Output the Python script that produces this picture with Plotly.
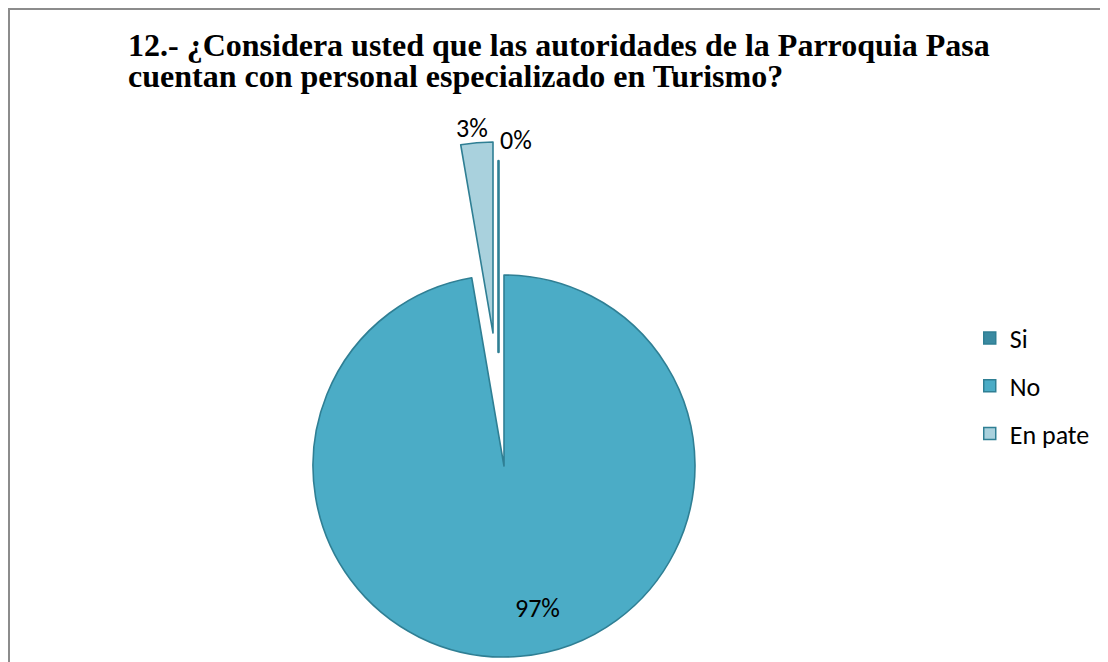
import plotly.graph_objects as go

# ---- data ----
labels = ["Si", "No", "En pate"]
counts = [0, 36, 1]
title_line1 = "12.- ¿Considera usted que las autoridades de la Parroquia Pasa"
title_line2 = "cuentan con personal especializado en Turismo?"

# ---- style ----
W, H = 1108, 662
slice_colors = ["#3A8AA1", "#4BACC6", "#A9D1DD"]
edge_color = "#2F7F94"
R = 191  # pie radius in px
FONT = "Carlito, Calibri, Lato, sans-serif"

# pie centres (px) for each slice: the main slice, and the two exploded ones
centres = [(490.5, 344), (496, 458), (485, 325)]
# label offsets from each slice's centre (px)
label_offsets = [(17, -212), (33, 142), (-21, -205)]


def domain(cx, cy, r=R):
    return dict(x=[(cx - r) / W, (cx + r) / W],
                y=[1 - (cy + r) / H, 1 - (cy - r) / H])


def pie_trace(idx, lw_show=1.6):
    cols = [c if i == idx else "rgba(0,0,0,0)" for i, c in enumerate(slice_colors)]
    lw = [lw_show if i == idx else 0 for i in range(len(labels))]
    cx, cy = centres[idx]
    return go.Pie(
        labels=labels, values=counts, sort=False, direction="clockwise", rotation=0,
        marker=dict(colors=cols, line=dict(color=edge_color, width=lw)),
        textinfo="none",
        showlegend=False, hoverinfo="label+percent",
        domain=domain(cx, cy),
    )


fig = go.Figure()
fig.add_trace(pie_trace(1))               # main slice
fig.add_trace(pie_trace(2))               # exploded "En pate"
fig.add_trace(pie_trace(0, lw_show=2.6))  # exploded "Si" (0 %)

# legend entries
for lab, col in zip(labels, slice_colors):
    fig.add_trace(go.Scatter(
        x=[None], y=[None], mode="markers", name=lab, legendgroup=lab,
        marker=dict(symbol="square", size=12, color=col,
                    line=dict(color=edge_color, width=1.5)),
        hoverinfo="skip",
    ))

total = sum(counts)
annotations = []
for i, v in enumerate(counts):
    cx, cy = centres[i]
    dx, dy = label_offsets[i]
    annotations.append(dict(
        text=f"{round(100 * v / total)}%", showarrow=False,
        x=(cx + dx) / W, y=1 - (cy + dy) / H, xref="paper", yref="paper",
        xanchor="center", yanchor="middle",
        font=dict(family=FONT, size=26, color="#000000"),
    ))

fig.update_layout(
    width=W, height=H,
    margin=dict(l=0, r=0, t=0, b=0),
    paper_bgcolor="white", plot_bgcolor="white",
    font=dict(family=FONT, size=26, color="#000000"),
    xaxis=dict(visible=False), yaxis=dict(visible=False),
    title=dict(
        text=(f'<span style="font-size:32px">{title_line1}</span><br>'
              f'<span style="font-size:32px">{title_line2}</span>'),
        font=dict(family="Liberation Serif, Times New Roman, serif", size=23.5,
                  color="#000000", weight="bold"),
        x=120 / W, xanchor="left", xref="paper",
        y=1 - 48 / H, yanchor="top", yref="container",
    ),
    legend=dict(
        x=0.868, xanchor="left", y=1 - 378 / H, yanchor="middle",
        font=dict(family=FONT, size=26, color="#000000"),
        tracegroupgap=11, bgcolor="rgba(0,0,0,0)",
    ),
    annotations=annotations,
    shapes=[dict(type="rect", xref="paper", yref="paper",
                 x0=1 / W, y0=1 - 1 / H, x1=1.02, y1=-0.02,
                 line=dict(color="#8C8C8C", width=2), fillcolor="rgba(0,0,0,0)",
                 layer="below")],
)

fig.write_html("out.html")
